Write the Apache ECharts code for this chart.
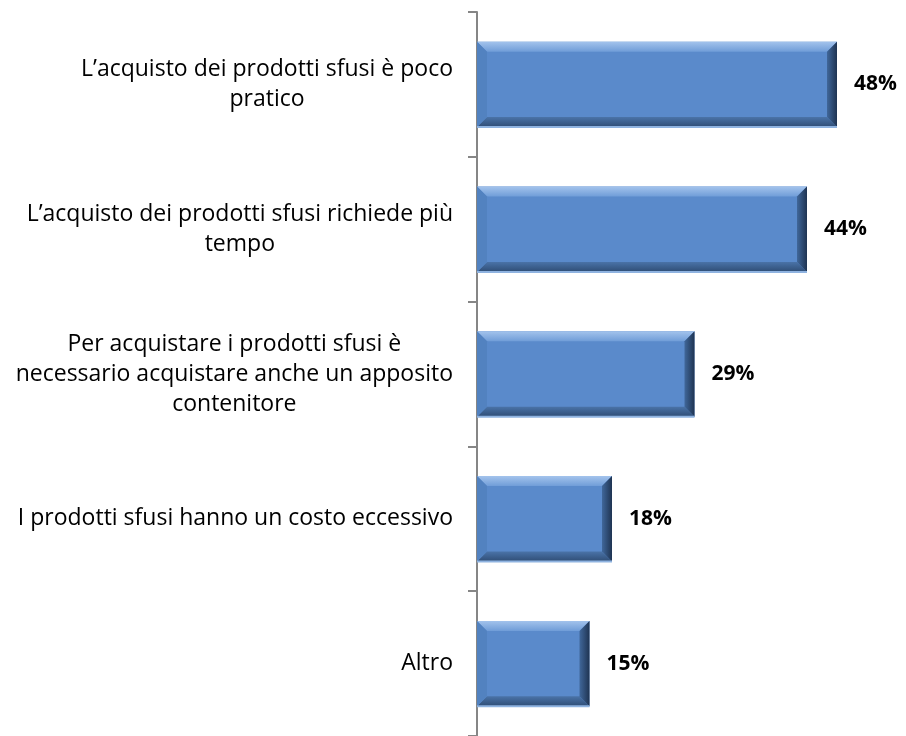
<!DOCTYPE html>
<html>
<head>
<meta charset="utf-8">
<script src="https://cdn.jsdelivr.net/npm/echarts@6/dist/echarts.min.js"></script>
<style>
  html, body { margin: 0; padding: 0; background: #fff; }
  #chart { width: 906px; height: 736px; }
</style>
</head>
<body>
<div id="chart"></div>
<script>
// Reasons for not buying loose (bulk) products, share of respondents
const categories = [
  "L\u2019acquisto dei prodotti sfusi è poco\npratico",
  "L\u2019acquisto dei prodotti sfusi richiede più\ntempo",
  "Per acquistare i prodotti sfusi è\nnecessario acquistare anche un apposito\ncontenitore",
  "I prodotti sfusi hanno un costo eccessivo",
  "Altro"
];
const values = [48, 44, 29, 18, 15];

const FONT = '"Open Sans"';
const BEVEL = 10;

// Bevelled bar: flat face plus four shaded trapezoids around it
function renderBar(params, api) {
  const v = api.value(0);
  const idx = api.value(1);
  const p0 = api.coord([0, idx]);
  const p1 = api.coord([v, idx]);
  const band = api.size([0, 1])[1];
  const h = band * 0.59;
  const x0 = p0[0], x1 = p1[0];
  const y0 = p0[1] - h / 2, y1 = p0[1] + h / 2;
  const b = Math.min(BEVEL, (x1 - x0) / 2);
  const poly = (pts, fill) => ({ type: 'polygon', shape: { points: pts }, style: { fill: fill } });
  return {
    type: 'group',
    children: [
      { type: 'rect', shape: { x: x0, y: y0, width: x1 - x0, height: h }, style: { fill: '#5a8acb' } },
      poly([[x0, y0], [x1, y0], [x1 - b, y0 + b], [x0 + b, y0 + b]], {
        type: 'linear', x: 0, y: 0, x2: 0, y2: 1,
        colorStops: [{ offset: 0, color: '#a3c3ec' }, { offset: 1, color: '#709dd8' }]
      }),
      poly([[x0, y1], [x1, y1], [x1 - b, y1 - b], [x0 + b, y1 - b]], {
        type: 'linear', x: 0, y: 0, x2: 0, y2: 1,
        colorStops: [{ offset: 0, color: '#4a73a8' }, { offset: 1, color: '#2f4d75' }]
      }),
      poly([[x0, y0], [x0 + b, y0 + b], [x0 + b, y1 - b], [x0, y1]], '#5282c0'),
      poly([[x1, y0], [x1 - b, y0 + b], [x1 - b, y1 - b], [x1, y1]], {
        type: 'linear', x: 0, y: 0, x2: 1, y2: 0,
        colorStops: [{ offset: 0, color: '#40679a' }, { offset: 1, color: '#1f3452' }]
      }),
      { type: 'rect', shape: { x: x0, y: y1 - 1, width: x1 - x0, height: 2 }, style: { fill: '#8fb3e0' } },
      {
        type: 'text',
        style: {
          text: v + '%',
          x: x1 + 17,
          y: p0[1],
          verticalAlign: 'middle',
          fill: '#000',
          font: 'bold 21px ' + FONT
        }
      }
    ]
  };
}

const chart = echarts.init(document.getElementById('chart'));
chart.setOption({
  animation: false,
  grid: { left: 477, right: 9, top: 12, bottom: -1, containLabel: false },
  xAxis: {
    type: 'value', min: 0, max: 56,
    show: false
  },
  yAxis: {
    type: 'category',
    data: categories,
    inverse: true,
    axisLine: { show: true, lineStyle: { color: '#868686', width: 2 } },
    axisTick: { show: true, length: 9, alignWithLabel: false, lineStyle: { color: '#868686', width: 2 } },
    axisLabel: {
      margin: 24,
      color: '#000',
      fontFamily: FONT,
      fontSize: 23,
      lineHeight: 30,
      formatter: (s) => '{c|' + s + '}',
      rich: { c: { align: 'center', fontFamily: FONT, fontSize: 23, lineHeight: 30, color: '#000' } }
    },
    splitLine: { show: false }
  },
  series: [{
    type: 'custom',
    renderItem: renderBar,
    encode: { x: 0, y: 1 },
    data: values.map((v, i) => [v, i])
  }]
});
</script>
</body>
</html>
